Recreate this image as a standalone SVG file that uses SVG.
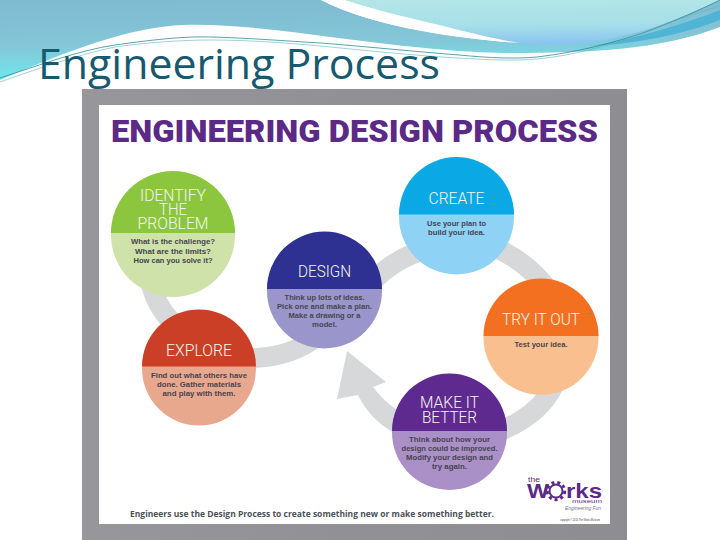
<svg xmlns="http://www.w3.org/2000/svg" width="720" height="540" viewBox="0 0 720 540">
<style>
.hd{font-family:"Roboto","Liberation Sans",sans-serif;font-size:16.500px;font-weight:300;fill:#f4f6ee;text-anchor:middle}
.bd{font-family:"Liberation Sans",sans-serif;font-size:7.800px;font-weight:700;fill:#45454f;text-anchor:middle}
.rib{fill:none;stroke:#d6d8da;stroke-width:20}
</style>
<defs>
<linearGradient id="sky" x1="0" y1="0" x2="0.12" y2="1"><stop offset="0" stop-color="#7fb9d0"/><stop offset="0.55" stop-color="#84c6d8"/><stop offset="1" stop-color="#6fe8ec"/></linearGradient>
<linearGradient id="pale" x1="0" y1="0" x2="0.1" y2="1"><stop offset="0" stop-color="#b4e6e6"/><stop offset="0.6" stop-color="#a6dfe8"/><stop offset="1" stop-color="#8ac4f0"/></linearGradient>
<linearGradient id="frame" x1="0" y1="0" x2="1" y2="0"><stop offset="0" stop-color="#97979b"/><stop offset="0.5" stop-color="#919195"/><stop offset="1" stop-color="#8e8e92"/></linearGradient>
</defs>
<rect width="720" height="540" fill="#ffffff"/>
<g id="banner">
<path d="M0,0H321C370,25 440,35 505,42C560,46 660,25 720,0V27C660,50 590,53 505,53C440,52 370,42 300,33C260,28 220,24 184,25C130,27 70,50 0,80Z" fill="url(#sky)"/>
<path d="M344,0H720C680,18 630,42 560,45C530,47 500,40 459,30C420,20 380,12 344,0Z" fill="url(#pale)"/>
<path d="M321,0H344C385,13 425,22 459,31L505,42C440,36 370,25 321,0Z" fill="#ffffff"/>
<path d="M590,46C640,38 690,22 720,10V20C690,32 640,44 590,46Z" fill="#4fb4d6"/>
<path d="M0,78C40,65 80,50 115,45C150,40 185,36 211,37C250,38 285,41 321,43C370,47 420,52 459,55C490,58 515,59 537,57C580,52 615,42 643,33C670,23 700,10 720,0" fill="none" stroke="#2f8d9b" stroke-width="0.8"/>
<path d="M0,82C40,68 80,54 115,47C150,42 185,40 211,40C250,40 285,43 321,46C370,51 420,56 459,58C490,60 515,61 537,59C580,55 620,42 650,30C675,20 700,12 720,6" fill="none" stroke="#5fb4bb" stroke-width="0.6"/>
</g>
<text id="title" x="38" y="79" font-family="'Open Sans',Lato,sans-serif" font-size="42" fill="#17596f" textLength="402" lengthAdjust="spacingAndGlyphs">Engineering Process</text>
<rect id="poster-frame" x="82" y="89" width="545" height="451" fill="url(#frame)"/>
<rect id="poster" x="99" y="105" width="511" height="419" fill="#ffffff"/>
<text id="poster-title" x="111" y="142" font-family="Roboto,'Liberation Sans',sans-serif" font-size="32" font-weight="900" fill="#5b2a86" textLength="487" lengthAdjust="spacingAndGlyphs">ENGINEERING DESIGN PROCESS</text>
<g id="connectors">
<path class="rib" d="M150,280Q155,305 172,322"/>
<path class="rib" d="M250,358Q290,358 318,336"/>
<path class="rib" d="M372,282Q395,258 425,250"/>
<path class="rib" d="M488,245Q525,258 550,292"/>
<path class="rib" d="M554,385Q540,415 498,432"/>
<path d="M373,387Q382,400 400,412L396,434Q370,420 358,395L337,399L347,351L386,382Z" fill="#d6d8da"/>
</g>
<g id="identify">
<circle cx="173" cy="235" r="62" fill="#cfe2aa"/>
<path d="M111,233A62,62 0 0 1 235,233Z" fill="#8cc63f"/>
<text class="hd"><tspan x="173" y="201" textLength="66" lengthAdjust="spacingAndGlyphs">IDENTIFY</tspan><tspan x="173" y="215" textLength="28" lengthAdjust="spacingAndGlyphs">THE</tspan><tspan x="173" y="229" textLength="71" lengthAdjust="spacingAndGlyphs">PROBLEM</tspan></text>
<text class="bd"><tspan x="173" y="244" textLength="84" lengthAdjust="spacingAndGlyphs">What is the challenge?</tspan><tspan x="173" y="254" textLength="76" lengthAdjust="spacingAndGlyphs">What are the limits?</tspan><tspan x="173" y="263" textLength="79" lengthAdjust="spacingAndGlyphs">How can you solve it?</tspan></text>
</g>
<g id="create">
<circle cx="456.500" cy="217" r="57.500" fill="#8ed2f6"/>
<path d="M399,214.500A57.500,57.500 0 0 1 514,214.500Z" fill="#0aa9e6"/>
<text class="hd" x="456.500" y="204" textLength="56" lengthAdjust="spacingAndGlyphs">CREATE</text>
<text class="bd"><tspan x="456.500" y="226" textLength="59" lengthAdjust="spacingAndGlyphs">Use your plan to</tspan><tspan x="456.500" y="235" textLength="57" lengthAdjust="spacingAndGlyphs">build your idea.</tspan></text>
</g>
<g id="design">
<circle cx="324.500" cy="291" r="57.500" fill="#9a95cb"/>
<path d="M267,289A57.500,57.500 0 0 1 382,289Z" fill="#2e3192"/>
<text class="hd" x="324.500" y="277" textLength="53" lengthAdjust="spacingAndGlyphs">DESIGN</text>
<text class="bd"><tspan x="324.500" y="300" textLength="80" lengthAdjust="spacingAndGlyphs">Think up lots of ideas.</tspan><tspan x="324.500" y="309" textLength="95" lengthAdjust="spacingAndGlyphs">Pick one and make a plan.</tspan><tspan x="324.500" y="318" textLength="72" lengthAdjust="spacingAndGlyphs">Make a drawing or a</tspan><tspan x="324.500" y="327" textLength="25" lengthAdjust="spacingAndGlyphs">model.</tspan></text>
</g>
<g id="try-it-out">
<circle cx="541" cy="337.500" r="57.500" fill="#fabf8f"/>
<path d="M483.500,336A57.500,57.500 0 0 1 598.500,336Z" fill="#f37021"/>
<text class="hd" x="541" y="325" textLength="78" lengthAdjust="spacingAndGlyphs">TRY IT OUT</text>
<text class="bd" x="541" y="347" textLength="53" lengthAdjust="spacingAndGlyphs">Test your idea.</text>
</g>
<g id="explore">
<circle cx="199" cy="368.500" r="57" fill="#e8a88e"/>
<path d="M142,366.500A57,57 0 0 1 256,366.500Z" fill="#cb3f27"/>
<text class="hd" x="199" y="356" textLength="66" lengthAdjust="spacingAndGlyphs">EXPLORE</text>
<text class="bd"><tspan x="199" y="378" textLength="96" lengthAdjust="spacingAndGlyphs">Find out what others have</tspan><tspan x="199" y="387" textLength="84" lengthAdjust="spacingAndGlyphs">done. Gather materials</tspan><tspan x="199" y="396" textLength="73" lengthAdjust="spacingAndGlyphs">and play with them.</tspan></text>
</g>
<g id="make-it-better">
<circle cx="449.500" cy="432.500" r="57.500" fill="#ab8fc7"/>
<path d="M392,431A57.500,57.500 0 0 1 507,431Z" fill="#5f2a90"/>
<text class="hd"><tspan x="449.500" y="408" textLength="59" lengthAdjust="spacingAndGlyphs">MAKE IT</tspan><tspan x="449.500" y="423" textLength="55" lengthAdjust="spacingAndGlyphs">BETTER</tspan></text>
<text class="bd"><tspan x="449.500" y="442" textLength="81" lengthAdjust="spacingAndGlyphs">Think about how your</tspan><tspan x="449.500" y="451" textLength="96" lengthAdjust="spacingAndGlyphs">design could be improved.</tspan><tspan x="449.500" y="460" textLength="87" lengthAdjust="spacingAndGlyphs">Modify your design and</tspan><tspan x="449.500" y="469" textLength="35" lengthAdjust="spacingAndGlyphs">try again.</tspan></text>
</g>
<text id="footer" x="130" y="517" font-family="'Open Sans','Liberation Sans',sans-serif" font-size="9.500" font-weight="700" fill="#4c5157" textLength="364" lengthAdjust="spacingAndGlyphs">Engineers use the Design Process to create something new or make something better.</text>
<g id="logo" font-family="'Liberation Sans',sans-serif" fill="#5b2a86">
<circle cx="556" cy="491" r="6.500" fill="none" stroke="#5b2a86" stroke-width="2"/>
<circle cx="556" cy="491" r="8.700" fill="none" stroke="#5b2a86" stroke-width="3" stroke-dasharray="3 3"/>
<text><tspan x="528" y="482" font-size="8" textLength="12" lengthAdjust="spacingAndGlyphs">the</tspan><tspan x="527" y="498" font-size="21" font-weight="700" textLength="22" lengthAdjust="spacingAndGlyphs">W</tspan><tspan x="566" y="498" font-size="21" font-weight="700" textLength="36" lengthAdjust="spacingAndGlyphs">rks</tspan><tspan x="572" y="503" font-size="6" textLength="30" lengthAdjust="spacingAndGlyphs">museum</tspan><tspan x="565" y="510" font-size="4.500" font-style="italic" fill="#77777f" textLength="36" lengthAdjust="spacingAndGlyphs">Engineering Fun</tspan><tspan x="560" y="521" font-size="2.800" fill="#444" textLength="40" lengthAdjust="spacingAndGlyphs">copyright © 2014 The Works Museum</tspan></text>
</g>
</svg>
